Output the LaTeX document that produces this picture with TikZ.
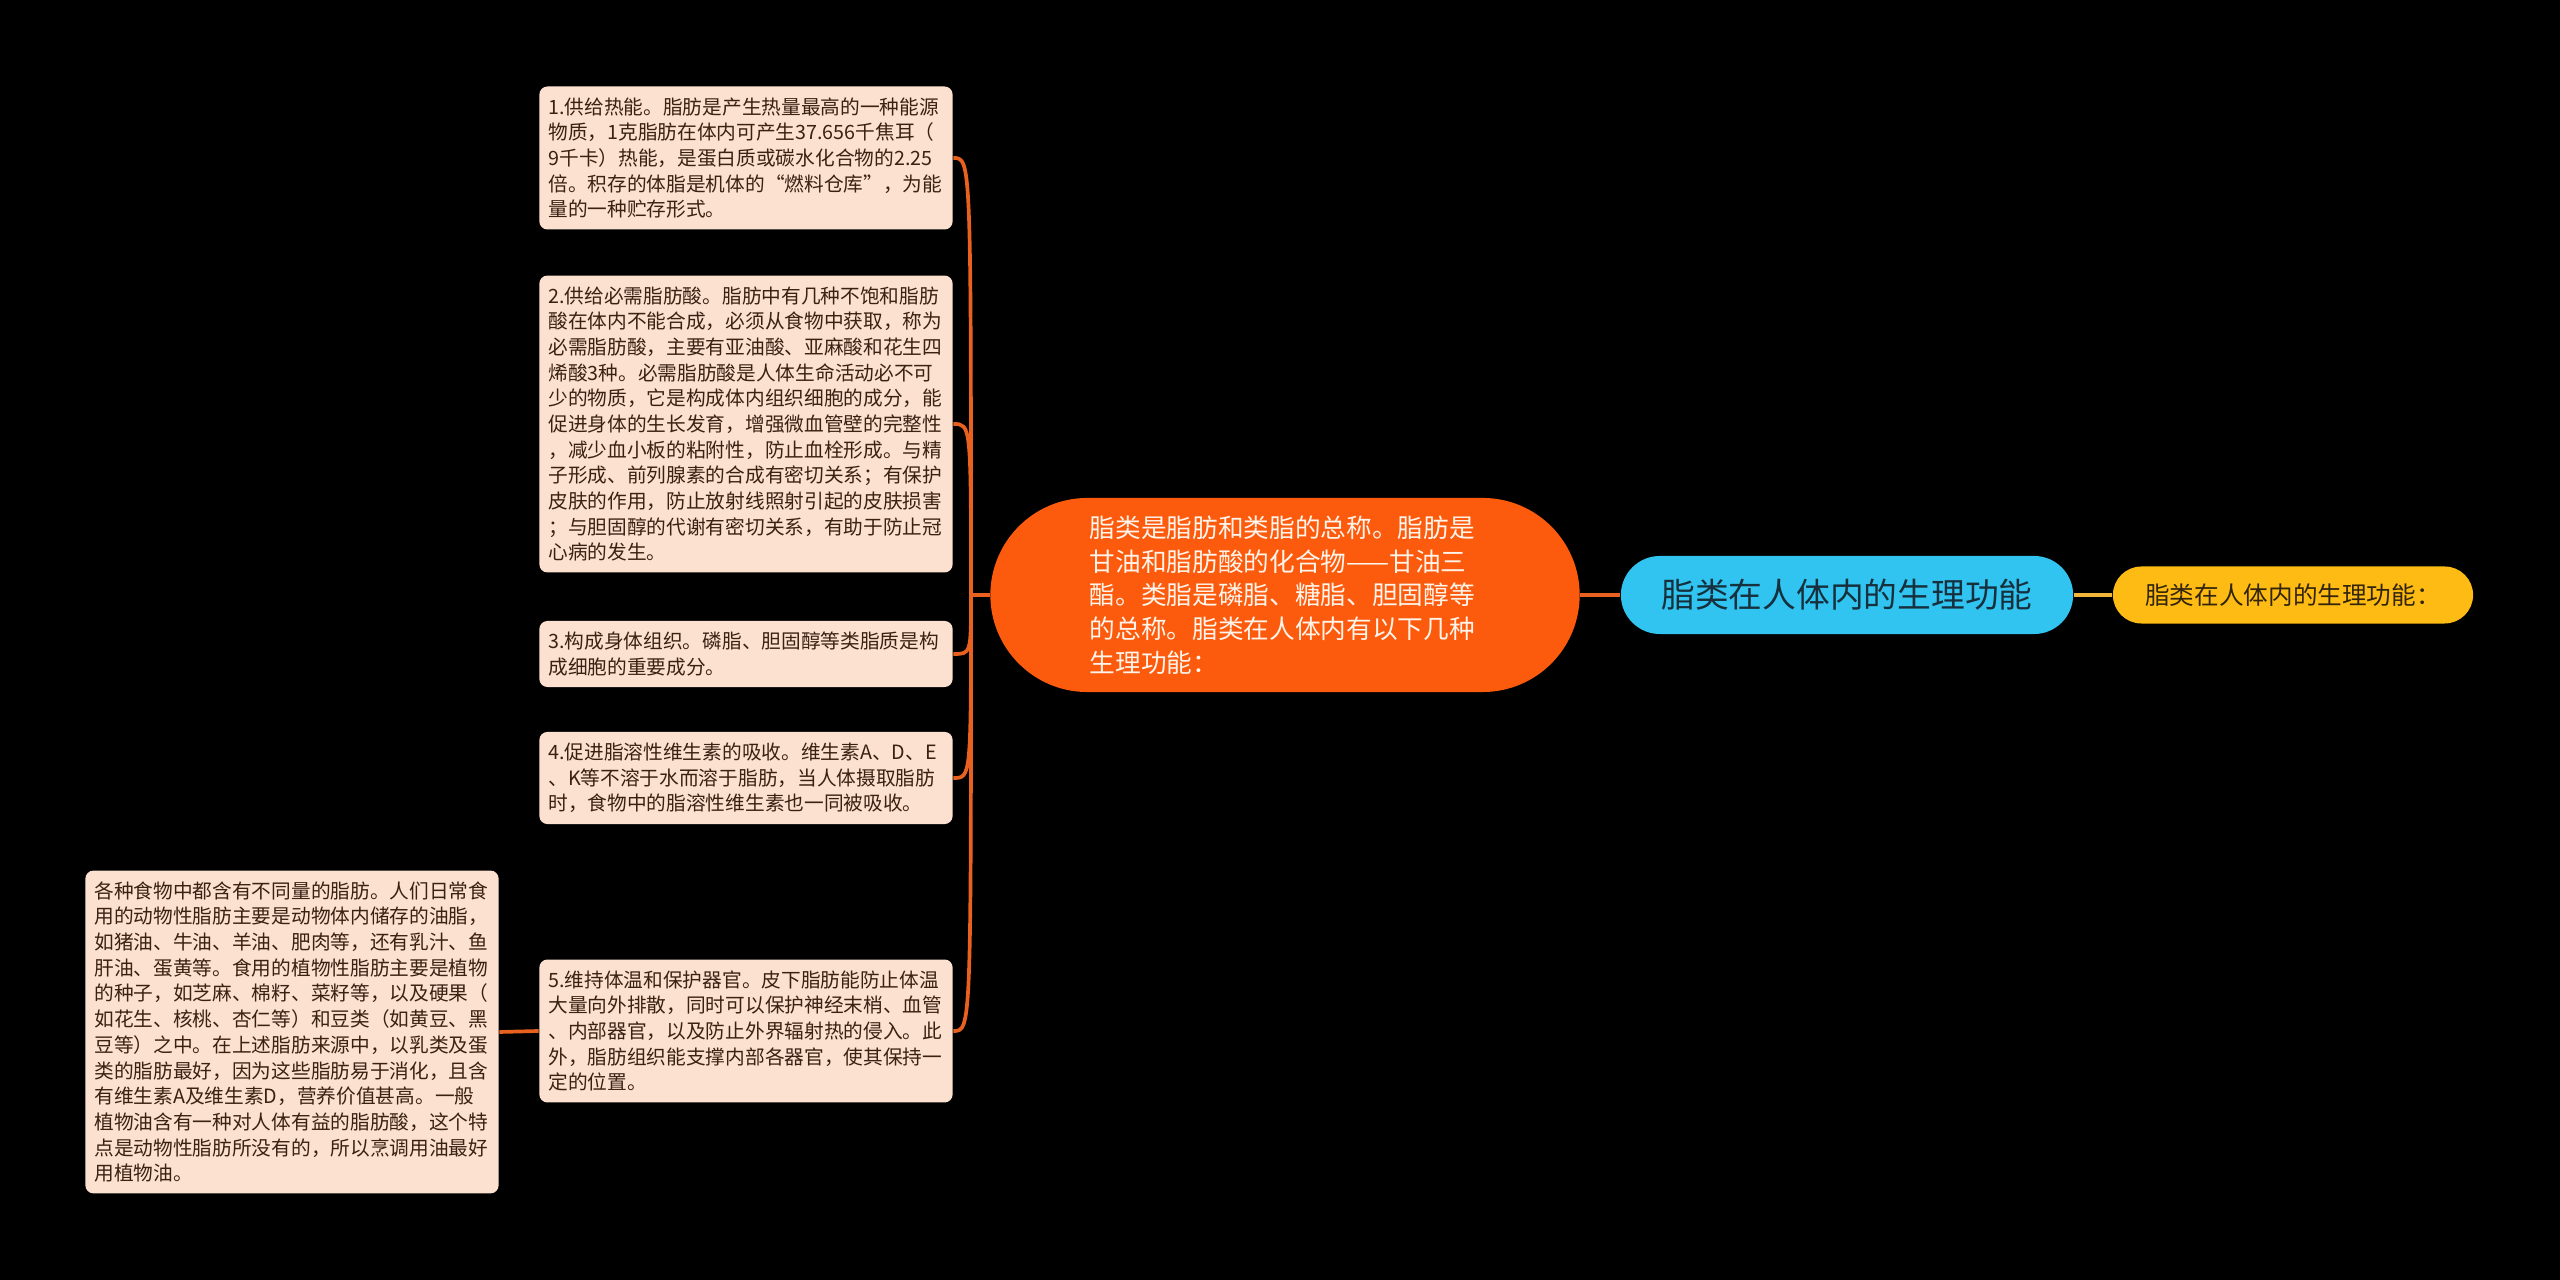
\documentclass[tikz,border=0pt]{standalone}
\usepackage{fontspec}
\setmainfont{Noto Sans CJK SC}
\usetikzlibrary{positioning}

\definecolor{leafbg}{HTML}{FCE1D1}
\definecolor{leaftext}{HTML}{3A2213}
\definecolor{rootbg}{HTML}{FC5A0C}
\definecolor{roottext}{HTML}{FFF4EA}
\definecolor{linkorange}{HTML}{E8611F}
\definecolor{topicbg}{HTML}{31C4F0}
\definecolor{topictext}{HTML}{16303E}
\definecolor{notebg}{HTML}{FDBB13}
\definecolor{notetext}{HTML}{33250C}
\definecolor{linkyellow}{HTML}{F3B63A}

\tikzset{
	leaf/.style={fill=leafbg, text=leaftext, rounded corners=0.08cm,
		font=\fontsize{5.6}{7.3}\selectfont, align=left,
		text width=3.95cm, inner xsep=0.09cm, inner ysep=0.11cm},
	branch/.style={draw=linkorange, line width=1.05pt},
}

\begin{document}
\begin{tikzpicture}[x=0.01cm,y=-0.01cm]
	\fill[black] (0,0) rectangle (2560,1280);
	
	\node[fill=rootbg, text=roottext, rounded corners=0.97cm,
		minimum width=5.89cm, minimum height=1.94cm,
		font=\fontsize{7.3}{9.6}\selectfont, align=left, text width=3.9cm]
		(Root) at (1285,595) {脂类是脂肪和类脂的总称。脂肪是\\
		甘油和脂肪酸的化合物——甘油三\\
		酯。类脂是磷脂、糖脂、胆固醇等\\
		的总称。脂类在人体内有以下几种\\
		生理功能：};
	
	\node[fill=topicbg, text=topictext, rounded corners=0.39cm,
		minimum width=4.52cm, minimum height=0.78cm,
		font=\fontsize{9.6}{11}\selectfont]
		(Topic) at (1847,595) {脂类在人体内的生理功能};
	
	\node[fill=notebg, text=notetext, rounded corners=0.285cm,
		minimum width=3.6cm, minimum height=0.57cm,
		font=\fontsize{7}{8}\selectfont]
		(Note) at (2293,595) {脂类在人体内的生理功能：};
	
	\node[leaf] (Item1) at (746,158) {1.供给热能。脂肪是产生热量最高的一种能源\\
		物质，1克脂肪在体内可产生37.656千焦耳（\\
		9千卡）热能，是蛋白质或碳水化合物的2.25\\
		倍。积存的体脂是机体的“燃料仓库”，为能\\
		量的一种贮存形式。};
	\node[leaf] (Item2) at (746,424) {2.供给必需脂肪酸。脂肪中有几种不饱和脂肪\\
		酸在体内不能合成，必须从食物中获取，称为\\
		必需脂肪酸，主要有亚油酸、亚麻酸和花生四\\
		烯酸3种。必需脂肪酸是人体生命活动必不可\\
		少的物质，它是构成体内组织细胞的成分，能\\
		促进身体的生长发育，增强微血管壁的完整性\\
		，减少血小板的粘附性，防止血栓形成。与精\\
		子形成、前列腺素的合成有密切关系；有保护\\
		皮肤的作用，防止放射线照射引起的皮肤损害\\
		；与胆固醇的代谢有密切关系，有助于防止冠\\
		心病的发生。};
	\node[leaf] (Item3) at (746,654) {3.构成身体组织。磷脂、胆固醇等类脂质是构\\
		成细胞的重要成分。};
	\node[leaf] (Item4) at (746,778) {4.促进脂溶性维生素的吸收。维生素A、D、E\\
		、K等不溶于水而溶于脂肪，当人体摄取脂肪\\
		时，食物中的脂溶性维生素也一同被吸收。};
	\node[leaf] (Item5) at (746,1031) {5.维持体温和保护器官。皮下脂肪能防止体温\\
		大量向外排散，同时可以保护神经末梢、血管\\
		、内部器官，以及防止外界辐射热的侵入。此\\
		外，脂肪组织能支撑内部各器官，使其保持一\\
		定的位置。};
	\node[leaf] (Food) at (292,1032) {各种食物中都含有不同量的脂肪。人们日常食\\
		用的动物性脂肪主要是动物体内储存的油脂，\\
		如猪油、牛油、羊油、肥肉等，还有乳汁、鱼\\
		肝油、蛋黄等。食用的植物性脂肪主要是植物\\
		的种子，如芝麻、棉籽、菜籽等，以及硬果（\\
		如花生、核桃、杏仁等）和豆类（如黄豆、黑\\
		豆等）之中。在上述脂肪来源中，以乳类及蛋\\
		类的脂肪最好，因为这些脂肪易于消化，且含\\
		有维生素A及维生素D，营养价值甚高。一般\\
		植物油含有一种对人体有益的脂肪酸，这个特\\
		点是动物性脂肪所没有的，所以烹调用油最好\\
		用植物油。};
	
	\coordinate (Trunk) at (971,595);
	
	\draw[branch] (Topic.west) -- (Root.east);
	\draw[draw=linkyellow, line width=1.05pt] (Topic.east) -- (Note.west);
	\draw[branch] (Root.west) -- (Trunk);
	\draw[branch] (Item1.east) .. controls (Item1.east -| Trunk) .. (Trunk);
	\draw[branch] (Item2.east) .. controls (Item2.east -| Trunk) .. (Trunk);
	\draw[branch] (Item3.east) .. controls (Item3.east -| Trunk) .. (Trunk);
	\draw[branch] (Item4.east) .. controls (Item4.east -| Trunk) .. (Trunk);
	\draw[branch] (Item5.east) .. controls (Item5.east -| Trunk) .. (Trunk);
	\draw[branch] (Item5.west) -- (Food.east);
	
\end{tikzpicture}
\end{document}
